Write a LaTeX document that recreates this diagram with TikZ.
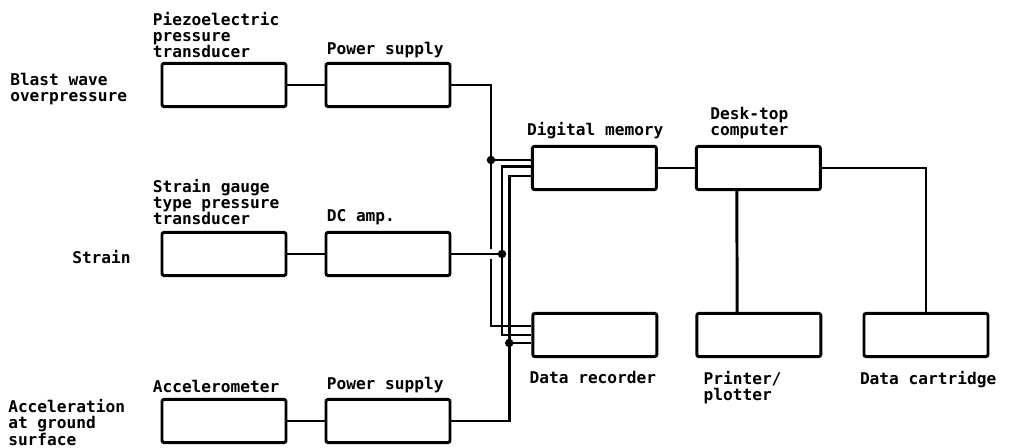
\documentclass[tikz,border=0pt]{standalone}
\usepackage{fontspec}
\setmainfont{DejaVu Sans Mono}
\usepackage{tikz}
\usetikzlibrary{positioning,calc}

\begin{document}
\begin{tikzpicture}[
  font=\bfseries\fontsize{11.5}{11.5}\selectfont,
  bx/.style ={draw, line width=2.1pt, rounded corners=1.5pt, minimum width=3.1cm, minimum height=1.08cm},
  lb/.style ={inner sep=0pt, align=left},
  wr/.style ={line width=2.1pt},
  jn/.style ={circle, fill, inner sep=0pt, minimum size=6pt}
]
\useasboundingbox (0,0) rectangle (25.3,11.2);
% ---------- sensors and amplifiers ----------
\node[bx] (pzt) at (5.6,9.075) {};
\node[bx] (psa) at (9.7,9.075) {};
\node[bx] (sgt) at (5.6,4.85)  {};
\node[bx] (dca) at (9.7,4.85)  {};
\node[bx] (acc) at (5.6,0.675) {};
\node[bx] (psb) at (9.7,0.675) {};

\node[lb, anchor=west] (bwl) at (0.25,8.975) {Blast wave\\overpressure};
\node[lb, anchor=west] (stl) at (1.8,4.775)  {Strain};
\node[lb, anchor=west] (acl) at (0.2,0.64)   {Acceleration\\at ground\\surface};

\node[lb, anchor=south west] (pztl) at ([xshift=-0.2cm,yshift=0.1cm]pzt.north west) {Piezoelectric\\pressure\\transducer};
\node[lb, anchor=south west] (psal) at ([xshift=0.05cm,yshift=0.1cm]psa.north west) {Power supply};
\node[lb, anchor=south west] (sgtl) at ([xshift=-0.2cm,yshift=0.15cm]sgt.north west) {Strain gauge\\type pressure\\transducer};
\node[lb, anchor=south west] (dcal) at ([xshift=0.05cm,yshift=0.15cm]dca.north west) {DC amp.};
\node[lb, anchor=south west] (accl) at ([xshift=-0.2cm,yshift=0.12cm]acc.north west) {Accelerometer};
\node[lb, anchor=south west] (psbl) at ([xshift=0.05cm,yshift=0.12cm]psb.north west) {Power supply};

\draw[wr] (pzt) -- (psa);
\draw[wr] (sgt) -- (dca);
\draw[wr] (acc) -- (psb);

% ---------- recording and processing ----------
\node[bx] (mem) at (14.86,7.0)  {};
\node[bx] (pc)  at (18.96,7.0)  {};
\node[bx] (rec) at (14.87,2.825) {};
\node[bx] (prn) at (18.97,2.825) {};
\node[bx] (crt) at (23.15,2.825) {};

\node[lb, anchor=south west] (meml) at ([xshift=-0.1cm,yshift=0.15cm]mem.north west) {Digital memory};
\node[lb, anchor=south west] (pcl)  at ([xshift=0.38cm,yshift=0.15cm]pc.north west)  {Desk-top\\computer};
\node[lb, anchor=north west] (recl) at ([xshift=-0.05cm,yshift=-0.32cm]rec.south west) {Data recorder};
\node[lb, anchor=north west] (prnl) at ([xshift=0.2cm,yshift=-0.32cm]prn.south west)  {Printer/\\plotter};
\node[lb, anchor=north west] (crtl) at ([xshift=-0.07cm,yshift=-0.32cm]crt.south west) {Data cartridge};

\draw[wr] (mem) -- (pc);
\draw[wr] (pc.east) -| (crt.north);
\draw[wr] ([xshift=-0.54cm]pc.south) -- ([xshift=-0.54cm]prn.north);

% ---------- signal bus ----------
\coordinate (ja)   at (12.275,7.2);
\coordinate (gapt) at (12.275,4.98);
\coordinate (gapb) at (12.275,4.72);
\coordinate (jb)   at (12.55,4.85);
\coordinate (jc)   at (12.73,2.625);

\draw[wr] (psa.east) -| (gapt);
\draw[wr] (ja) -- (ja -| mem.west);
\draw[wr] (gapb) |- ([yshift=0.225cm]rec.west);
\draw[wr] (dca.east) -- (jb);
\draw[wr] ([yshift=0.03cm]mem.west) -| (jb) |- (rec.west);
\draw[wr] (psb.east) -| (jc) |- ([yshift=-0.2cm]mem.west);
\draw[wr] (jc) -- (jc -| rec.west);
\node[jn] at (ja) {};
\node[jn] at (jb) {};
\node[jn] at (jc) {};
\end{tikzpicture}
\end{document}
